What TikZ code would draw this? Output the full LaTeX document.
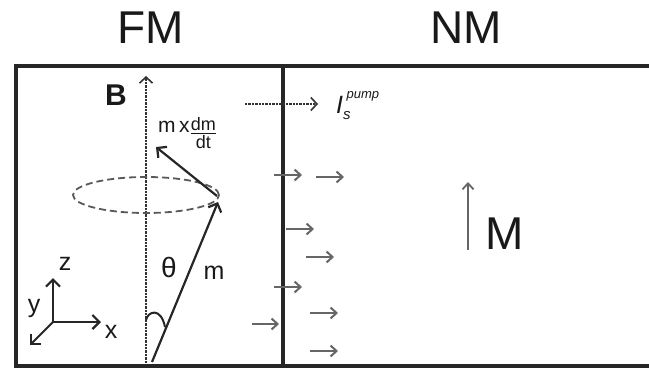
\documentclass[tikz,border=0pt]{standalone}
\usepackage{amsmath}
\usepackage{fontspec}
\setmainfont{Liberation Sans}
\usetikzlibrary{arrows.meta,shapes.geometric}
\tikzset{
  lbl/.style={inner sep=0pt, text=black!90},
  fs/.style={font=\fontsize{#1}{#1}\selectfont},
  smallarr/.style={draw=black!60, line width=2pt, -{Straight Barb[length=6pt,width=11pt,line width=2pt]}},
  vec/.style={draw=black!85, line width=2.2pt, -{Straight Barb[length=7pt,width=14pt,line width=2.2pt]}},
  dotarr/.style={draw=black!80, line width=2.4pt, densely dotted, -{Straight Barb[length=6pt,width=13pt,line width=1.6pt]}},
}
\begin{document}
\begin{tikzpicture}[x=1pt,y=-1pt]
\useasboundingbox (0,0) rectangle (649,369);
% frame
\draw[line width=3.2pt, black!85] (660,66) -- (16,66) -- (16,366) -- (660,366);
\draw[line width=3.2pt, black!85] (283,66) -- (283,366);
% titles
\node[lbl, fs=46] (fm) at (151,28) {FM};
\node[lbl, fs=46] (nm) at (466,28) {NM};
% B axis
\coordinate (o) at (146,363);
\coordinate (btop) at (146,76);
\draw[dotarr] (o) -- (btop);
\node[lbl, font=\fontsize{30}{30}\selectfont\bfseries] (b) at (116,95) {B};
% precession cone
\node[draw=black!65, line width=1.8pt, dash pattern=on 7pt off 4pt, ellipse, minimum width=146pt, minimum height=36pt, inner sep=0pt] (ell) at (146,195) {};
% m vector
\coordinate (mstart) at (152,362);
\coordinate (mtip) at (218,202);
\draw[vec] (mstart) -- (mtip);
% m x dm/dt
\coordinate (dmstart) at (217,196);
\coordinate (dmtip) at (156,147);
\draw[vec] (dmstart) -- (dmtip);
\node[lbl, anchor=west] (mxdm) at (158,133) {\fontsize{21}{21}\selectfont m\,x\raisebox{-0.5ex}{\fontsize{18}{18}\selectfont$\genfrac{}{}{1.2pt}{}{\mbox{dm}}{\mbox{dt}}$}};
% angle
\coordinate (a1) at (146,320);
\coordinate (a2) at (165,327);
\draw[black!85, line width=2pt] (a1) .. controls (148,311) and (161,307) .. (a2);
\node[lbl, fs=28] (theta) at (169,267) {θ};
\node[lbl, fs=25] (mlabel) at (214,273) {m};
% axes
\coordinate (ax) at (53,322);
\coordinate (axz) at (53,278);
\coordinate (axx) at (101,322);
\coordinate (axy) at (30,345);
\draw[vec, line width=2pt] (ax) -- (axz);
\draw[vec, line width=2pt] (ax) -- (axx);
\draw[vec, line width=2pt] (ax) -- (axy);
\node[lbl, fs=25] (zl) at (65,264) {z};
\node[lbl, fs=25] (yl) at (34,308) {y};
\node[lbl, fs=25] (xl) at (111,332) {x};
% pump
\coordinate (p1) at (245,104);
\coordinate (p2) at (318,104);
\draw[dotarr, line width=1.6pt] (p1) -- (p2);
\node[lbl, anchor=west] (pump) at (336,106) {\fontsize{25}{25}\selectfont\itshape I\raisebox{-0.5ex}{\fontsize{15}{15}\selectfont s}\hspace{-4pt}\raisebox{1.1ex}{\fontsize{13}{13}\selectfont pump}};
% spin current arrows
\foreach \i/\xa/\xb/\y in {1/274/302/175, 2/316/344/177, 3/286/314/229, 4/306/334/257, 5/274/302/287, 6/252/279/324, 7/310/338/313, 8/310/338/351}{
  \coordinate (s\i a) at (\xa,\y);
  \coordinate (s\i b) at (\xb,\y);
  \draw[smallarr] (s\i a) -- (s\i b);
}
% M
\coordinate (Mb) at (468,250);
\coordinate (Mt) at (468,182);
\draw[draw=black!60, line width=1.8pt, -{Straight Barb[length=6pt,width=11pt,line width=1.8pt]}] (Mb) -- (Mt);
\node[lbl, fs=46] (M) at (505,234) {M};
\end{tikzpicture}
\end{document}
